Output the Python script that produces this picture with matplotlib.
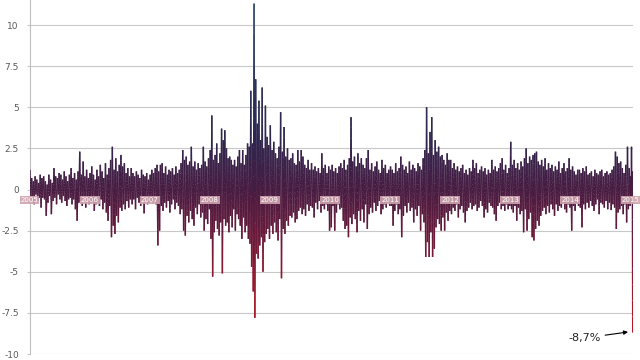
import matplotlib
matplotlib.use("Agg")
import matplotlib.pyplot as plt
import numpy as np
from matplotlib.collections import LineCollection
from matplotlib.colors import LinearSegmentedColormap, Normalize

# daily returns (%), one list per year
ret_2005 = [1.2, -0.6, 0.7, -0.4, 0.5, -0.9, 0.8, -0.3, 0.6, -0.7, 0.4, -0.5,
            0.9, -1.1, 0.7, -0.5, 0.8, -0.6, 0.5, -1.6, 0.3, -0.8, 0.9, -0.4,
            0.6, -1.5, 0.4, -0.7, 1.3, -0.5, 0.8, -0.9, 0.7, -0.3, 1.0, -0.6,
            0.9, -0.8, 0.6, -0.4, 1.1, -0.7, 0.8, -1.0, 0.5, -0.6, 0.9, -0.5,
            1.3, -0.9, 0.7, -0.6, 1.0, -1.2, 0.6, -1.9, 1.1, -0.8, 2.3, -0.7,
            0.9, -1.0, 1.7, -0.6, 0.8, -1.1, 1.2, -0.5, 0.7, -0.9]
ret_2006 = [1.0, -0.8, 1.4, -0.7, 0.9, -1.3, 0.6, -0.9, 1.2, -0.5, 0.8, -1.0,
            1.5, -0.6, 1.1, -1.2, 0.7, -0.8, 1.6, -1.4, 0.9, -1.9, 1.3, -1.0,
            1.8, -2.9, 2.6, -2.2, 1.2, -2.7, 1.9, -1.6, 1.1, -2.0, 1.5, -1.1,
            2.1, -1.3, 1.4, -0.9, 1.6, -1.2, 1.0, -0.7, 1.3, -1.1, 0.8, -0.6,
            1.3, -0.9, 1.0, -0.6, 0.8, -1.2, 1.1, -0.5, 0.9, -0.8, 0.7, -1.0,
            1.2, -0.7, 0.9, -1.45, 0.8, -0.6, 1.0, -0.9, 0.6, -0.8]
ret_2007 = [0.9, -0.7, 1.2, -0.8, 1.0, -0.6, 1.3, -0.9, 1.5, -3.4, 1.1, -2.5,
            1.5, -1.0, 1.6, -1.3, 1.0, -0.8, 1.4, -1.1, 0.9, -0.7, 1.2, -1.4,
            1.1, -0.9, 1.3, -0.6, 0.9, -1.2, 1.4, -0.8, 1.0, -1.0, 1.2, -1.5,
            1.6, -1.2, 2.4, -2.5, 1.8, -2.8, 2.0, -1.6, 1.5, -2.0, 1.7, -1.3,
            2.6, -1.8, 1.4, -2.2, 1.7, -1.1, 1.2, -1.5, 1.6, -0.9, 1.3, -1.7,
            1.5, -1.4, 2.6, -2.5, 1.7, -1.8, 1.4, -2.1, 1.9, -1.2]
ret_2008 = [2.4, -3.0, 4.5, -5.3, 1.8, -2.6, 2.1, -1.9, 2.8, -2.4, 1.6, -2.8,
            2.2, -2.0, 3.7, -5.1, 3.0, -1.8, 3.6, -2.2, 2.5, -2.0, 1.9, -2.6,
            2.0, -1.6, 1.8, -2.3, 1.5, -1.2, 1.8, -2.5, 1.4, -1.5, 2.0, -1.8,
            2.4, -2.2, 1.6, -3.0, 2.4, -1.7, 1.5, -2.6, 2.1, -2.2, 2.8, -3.0,
            2.6, -3.3, 6.0, -4.7, 2.8, -6.2, 11.3, -7.8, 6.7, -3.9, 4.0, -4.2, 5.4, -3.4,
            3.0, -2.9, 6.2, -5.0, 2.5, -3.2, 5.1, -2.7, 3.2, -2.4, 2.7, -3.0]
ret_2009 = [3.9, -2.2, 2.4, -2.7, 2.9, -2.0, 2.2, -2.6, 1.9, -3.1, 2.6, -1.8,
            4.7, -5.4, 2.3, -2.4, 3.8, -2.7, 2.0, -1.9, 2.5, -2.2, 1.8, -1.6,
            1.9, -1.7, 2.2, -1.4, 1.6, -2.0, 1.5, -1.8, 2.4, -1.3, 1.7, -1.1,
            2.4, -1.5, 2.0, -1.2, 1.5, -1.6, 1.3, -0.9, 1.8, -1.3, 1.2, -1.0,
            1.6, -1.1, 1.2, -1.7, 1.4, -0.8, 1.1, -1.2, 1.3, -0.7, 1.0, -1.4,
            2.2, -1.0, 1.3, -1.2, 1.5, -0.9, 1.0, -1.3, 1.4, -2.5]
ret_2010 = [1.2, -2.3, 1.5, -1.0, 1.1, -2.5, 1.3, -1.4, 1.0, -0.9, 1.4, -1.2,
            1.6, -1.1, 1.3, -1.9, 1.8, -2.4, 1.2, -2.2, 1.5, -2.9, 1.9, -1.7,
            4.4, -2.1, 1.7, -1.5, 2.0, -1.8, 1.4, -2.6, 2.2, -1.3, 1.6, -1.9,
            1.9, -1.2, 1.5, -2.0, 1.3, -0.9, 1.9, -2.4, 2.4, -1.5, 1.2, -1.1,
            1.6, -1.4, 1.1, -0.8, 1.4, -1.3, 1.7, -1.0, 1.2, -0.7, 1.0, -1.5,
            1.8, -1.2, 1.3, -0.9, 1.5, -1.1, 1.0, -0.8, 1.2, -1.0]
ret_2011 = [1.4, -1.0, 1.2, -2.2, 1.0, -1.3, 1.6, -0.9, 1.1, -1.5, 1.3, -1.2,
            2.0, -2.9, 1.5, -1.6, 1.2, -1.0, 1.4, -1.4, 1.0, -0.8, 1.7, -1.3,
            1.2, -1.1, 1.5, -2.0, 1.3, -1.2, 1.1, -1.6, 1.6, -1.0, 1.4, -2.5,
            1.2, -1.5, 1.9, -2.0, 2.4, -4.1, 5.0, -3.2, 2.2, -4.1, 3.5, -2.6,
            4.4, -4.1, 2.1, -3.6, 3.0, -2.3, 2.3, -1.8, 2.6, -2.1, 2.0, -2.5,
            2.1, -1.7, 1.8, -2.5, 1.5, -1.4, 2.2, -1.9, 1.8, -1.3]
ret_2012 = [1.8, -1.5, 1.3, -1.1, 1.6, -1.3, 1.2, -0.9, 1.4, -1.7, 1.1, -1.2,
            1.3, -1.0, 1.5, -1.4, 1.0, -2.0, 1.2, -1.3, 0.9, -1.1, 1.3, -0.8,
            1.1, -1.2, 1.8, -1.0, 1.3, -0.9, 1.6, -1.3, 1.0, -1.1, 1.2, -0.7,
            1.4, -1.0, 1.1, -1.7, 1.3, -1.2, 0.9, -1.4, 1.2, -0.8, 1.0, -1.0,
            1.8, -1.1, 1.2, -1.5, 1.4, -1.9, 1.1, -1.0, 1.3, -0.8, 1.6, -1.2,
            1.9, -1.0, 1.2, -1.3, 1.5, -0.9, 1.0, -1.2, 1.3, -1.0]
ret_2013 = [2.9, -1.2, 1.5, -1.4, 1.8, -1.0, 1.3, -1.9, 1.6, -1.1, 1.2, -1.5,
            1.7, -1.3, 1.4, -2.6, 1.9, -1.2, 2.5, -2.5, 1.6, -1.8, 2.0, -1.4,
            1.8, -2.9, 2.1, -3.1, 2.2, -2.4, 2.3, -1.9, 1.7, -2.2, 1.5, -1.6,
            1.8, -1.3, 1.4, -1.1, 1.9, -1.5, 1.2, -1.0, 1.6, -1.4, 1.3, -0.9,
            1.5, -1.2, 1.1, -1.6, 1.4, -0.9, 1.2, -1.3, 1.7, -1.0, 1.0, -1.1,
            1.3, -0.8, 1.6, -1.2, 1.1, -1.4, 1.3, -0.9, 1.9, -1.1]
ret_2014 = [1.2, -2.5, 1.4, -1.0, 1.1, -1.3, 0.9, -0.8, 1.2, -1.0, 1.2, -1.1,
            1.0, -2.3, 1.3, -0.9, 1.1, -1.2, 1.4, -0.8, 0.9, -1.1, 1.0, -0.7,
            1.1, -1.0, 0.8, -1.3, 1.2, -0.9, 1.0, -0.6, 0.9, -1.5, 1.1, -0.8,
            1.2, -0.9, 0.8, -1.1, 1.0, -0.7, 1.1, -1.2, 0.9, -0.8, 1.0, -1.25,
            1.2, -0.9, 1.4, -1.1, 2.3, -2.4, 2.0, -1.4, 1.6, -1.2, 1.7, -1.0,
            1.3, -1.5, 1.0, -0.9, 1.5, -2.0, 2.6, -1.2, 1.3, -1.0]
ret_2015 = [0.8, -0.7, 2.6, -0.5, 1.1, -8.7]

years = [2005, 2006, 2007, 2008, 2009, 2010, 2011, 2012, 2013, 2014, 2015]
yearly = [ret_2005, ret_2006, ret_2007, ret_2008, ret_2009, ret_2010,
          ret_2011, ret_2012, ret_2013, ret_2014, ret_2015]
year_labels = [str(y) for y in years]
yticks = [-10, -7.5, -5, -2.5, 0, 2.5, 5, 7.5, 10]

# spread each year's values across the year (2015 only covers two weeks)
xs, ys = [], []
for yr, vals in zip(years, yearly):
    span = 0.04 if yr == 2015 else 1.0
    n = len(vals)
    xs.append(yr + (np.arange(n) + 0.5) / n * span)
    ys.append(np.array(vals, dtype=float))
x = np.concatenate(xs)
y = np.concatenate(ys)

fig = plt.figure(figsize=(6.4, 3.6), dpi=100)
ax = fig.add_axes([30 / 640, 6 / 360, 603 / 640, 354 / 360])

# vertical colour gradient: blue at the top, plum in the middle, red at the bottom
cmap = LinearSegmentedColormap.from_list("ret", [
    (0.00, "#c4141e"),
    (0.15, "#981a2e"),
    (0.30, "#6a1a3a"),
    (0.44, "#481c42"),
    (0.58, "#30264e"),
    (0.78, "#2a365a"),
    (1.00, "#3a4f72"),
])
norm = Normalize(-9, 11.5)

k = 10
t = np.linspace(0, 1, k + 1)
px = x[:-1, None] + (x[1:] - x[:-1])[:, None] * t
py = y[:-1, None] + (y[1:] - y[:-1])[:, None] * t
segs = np.stack([np.stack([px[:, :-1], py[:, :-1]], axis=-1),
                 np.stack([px[:, 1:], py[:, 1:]], axis=-1)], axis=2).reshape(-1, 2, 2)
mid = segs[:, :, 1].mean(axis=1)
lc = LineCollection(segs, colors=cmap(norm(mid)), linewidths=1.0, capstyle="butt", zorder=3)
ax.add_collection(lc)

ax.set_xlim(2005 + 0.5 / 60.1, 2005 + 603.5 / 60.1)
ax.set_ylim(-10, 11.52)

ax.set_yticks(yticks)
ax.set_yticklabels([f"{v:g}" for v in yticks])
ax.set_xticks([])
ax.grid(axis="y", color="#c8c8c8", linewidth=0.8, zorder=0)
ax.set_axisbelow(True)
ax.tick_params(axis="y", length=2, color="#c8c8c8", labelsize=6.5, labelcolor="#595959", pad=6)
for side in ["top", "right", "bottom"]:
    ax.spines[side].set_visible(False)
ax.spines["left"].set_color("#bfbfbf")
ax.spines["left"].set_linewidth(0.8)

for yr, lab in zip(years, year_labels):
    ax.text(yr, -0.62, lab, ha="center", va="center", fontsize=5, color="white", zorder=4,
            bbox=dict(boxstyle="square,pad=0.15", facecolor="#cfa3ae", edgecolor="none", alpha=0.9))

ax.annotate("-8,7%", xy=(2014.96, -8.66), xytext=(2014.24, -9.03),
            ha="center", va="center", fontsize=8, color="#222222",
            arrowprops=dict(arrowstyle="-|>", color="black", lw=0.8, mutation_scale=6,
                            shrinkA=1, shrinkB=0))

fig.savefig("out.png", dpi=100)
